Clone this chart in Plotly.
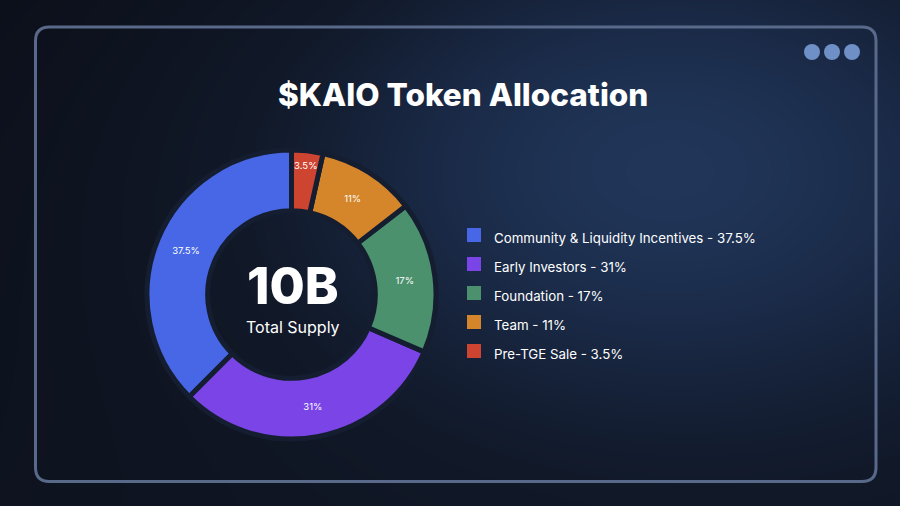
import numpy as np
import plotly.graph_objects as go

# ---- data ----
labels = ["Community & Liquidity Incentives", "Early Investors", "Foundation", "Team", "Pre-TGE Sale"]
values = [37.5, 31, 17, 11, 3.5]
pct_text = ["37.5%", "31%", "17%", "11%", "3.5%"]
colors = ["#4767E6", "#7A44E6", "#4B916D", "#D5862A", "#CD4431"]
title_text = "$KAIO Token Allocation"
center_big = "10B"
center_small = "Total Supply"

W, H = 900, 506
FONT = "Inter"

def px(x):
    return x / W

def py(y):
    return 1 - y / H

# ---- background gradient (decorative) ----
gx = np.linspace(0, W, 91)
gy = np.linspace(0, H, 52)
X, Y = np.meshgrid(gx, gy)
Z = (np.exp(-(((X - 660) / 400) ** 2 + ((Y - 160) / 260) ** 2))
     + 0.15 * (Y / H) + 0.1 * (X / W))

fig = go.Figure()
fig.add_trace(go.Heatmap(
    x=gx, y=gy, z=Z, zsmooth="best", showscale=False, hoverinfo="skip",
    colorscale=[[0, "#0c101b"], [0.35, "#111929"], [0.7, "#192844"], [1, "#203558"]],
    showlegend=False,
))

# ---- donut ----
cx, cy, R = 291.5, 294.5, 144.5
fig.add_trace(go.Pie(
    labels=labels,
    values=values,
    text=pct_text,
    textinfo="text",
    textposition="inside",
    insidetextorientation="horizontal",
    textfont=dict(family=FONT, size=9.5, color="white"),
    hole=0.58,
    sort=False,
    direction="counterclockwise",
    rotation=-135,
    marker=dict(colors=colors, line=dict(color="#151e31", width=5)),
    domain=dict(x=[px(cx - R), px(cx + R)], y=[py(cy + R), py(cy - R)]),
    hoverinfo="skip",
    showlegend=False,
))

# ---- legend entries ----
for l, t, c in zip(labels, pct_text, colors):
    fig.add_trace(go.Scatter(
        x=[None], y=[None], mode="markers",
        marker=dict(symbol="square", size=14, color=c, line=dict(width=0)),
        name=f'<span style="font-size:13.3px">{l} - {t}</span>',
        showlegend=True,
    ))

# ---- shapes: border + dots ----
bx0, by0, bx1, by1, r = 35.5, 27, 876, 481.5, 14
path = (f"M{bx0+r},{by0} L{bx1-r},{by0} Q{bx1},{by0} {bx1},{by0+r} "
        f"L{bx1},{by1-r} Q{bx1},{by1} {bx1-r},{by1} L{bx0+r},{by1} "
        f"Q{bx0},{by1} {bx0},{by1-r} L{bx0},{by0+r} Q{bx0},{by0} {bx0+r},{by0} Z")
shapes = [dict(type="path", path=path, xref="x", yref="y",
               line=dict(color="#59698a", width=3), fillcolor="rgba(0,0,0,0)", layer="above")]
for dx in [812, 832, 852]:
    shapes.append(dict(type="circle", xref="x", yref="y",
                       x0=dx - 8, x1=dx + 8, y0=52 - 8, y1=52 + 8,
                       fillcolor="#6f90c6", line=dict(width=0)))

annotations = [
    dict(text=title_text, x=px(463), y=py(94), xref="paper", yref="paper",
         showarrow=False, font=dict(family=FONT, size=31.5, color="white", weight=800),
         xanchor="center", yanchor="middle"),
    dict(text=center_big, x=px(cx + 1), y=py(285), xref="paper", yref="paper",
         showarrow=False, font=dict(family=FONT, size=51, color="white", weight=800),
         xanchor="center", yanchor="middle"),
    dict(text=center_small, x=px(cx + 1), y=py(327), xref="paper", yref="paper",
         showarrow=False, font=dict(family=FONT, size=16, color="white"),
         xanchor="center", yanchor="middle"),
]

fig.update_layout(
    width=W, height=H,
    margin=dict(l=0, r=0, t=0, b=0),
    paper_bgcolor="#131b2d", plot_bgcolor="#131b2d",
    xaxis=dict(range=[0, W], visible=False, fixedrange=True, domain=[0, 1]),
    yaxis=dict(range=[H, 0], visible=False, fixedrange=True, domain=[0, 1]),
    shapes=shapes,
    annotations=annotations,
    showlegend=True,
    legend=dict(x=px(454), y=py(293), xanchor="left", yanchor="middle",
                bgcolor="rgba(0,0,0,0)", borderwidth=0,
                font=dict(family=FONT, size=20, color="white")),
)

fig.write_html("out.html", config={"displayModeBar": False},
               post_script="document.body.style.margin='0';")
